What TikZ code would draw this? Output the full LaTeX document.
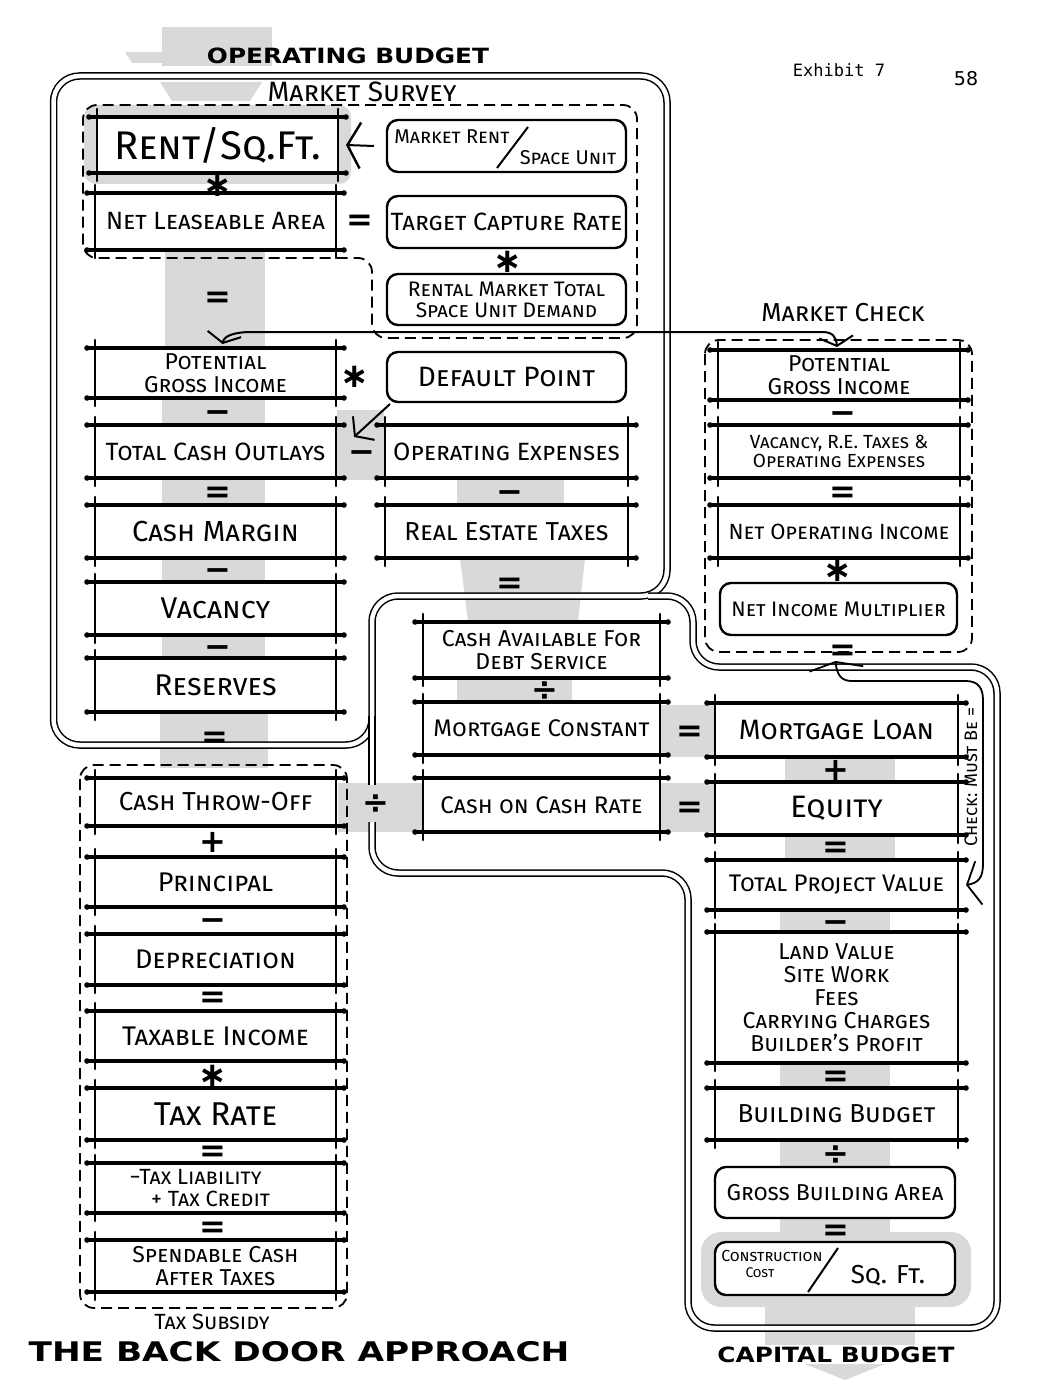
\documentclass[tikz,border=0pt]{standalone}
\usepackage{fontspec}
\usepackage{graphicx}
\setmainfont{Fira Sans}
\newfontfamily\headfont{DejaVu Sans}[FakeStretch=1.18]
\newfontfamily\headwide{DejaVu Sans}[FakeStretch=1.27]
\newfontfamily\opfont{DejaVu Sans}
\newfontfamily\typefont{DejaVu Sans Mono}
\usetikzlibrary{arrows.meta}

\tikzset{
 bb/.style={fill=white, inner sep=0pt, outer sep=0pt, align=center},
 rb/.style={draw, fill=white, rounded corners=11pt, line width=2.4pt, inner sep=0pt, outer sep=0pt, align=center},
 hl/.style={line width=3.4pt, line cap=round},
 vl/.style={line width=2.6pt, line cap=round},
 frame/.style={draw, double=white, double distance=4.5pt, line width=1.5pt, rounded corners=26pt},
 dbox/.style={draw, dash pattern=on 11pt off 6pt, line width=1.8pt, rounded corners=14pt},
 stip/.style={fill=black!15},
 op/.style={font={\opfont\bfseries\fontsize{32}{32}\selectfont}, inner sep=0pt, anchor=base, yshift=-10.3pt},
 opast/.style={font={\opfont\bfseries\fontsize{34}{34}\selectfont}, inner sep=0pt, anchor=base, yshift=-11pt},
 arrw/.style={line width=2pt},
}
\newcommand\bbox[7]{%
 \node[bb, minimum width=#4pt, minimum height=#5pt, font={\fontsize{#6}{#6}\selectfont\scshape}] (#1) at (#2,#3) {#7};
 \draw[hl] ([xshift=-8pt]#1.north west) -- ([xshift=8pt]#1.north east);
 \draw[hl] ([xshift=-8pt]#1.south west) -- ([xshift=8pt]#1.south east);
 \draw[vl] ([yshift=8pt]#1.north west) -- ([yshift=-8pt]#1.south west);
 \draw[vl] ([yshift=8pt]#1.north east) -- ([yshift=-8pt]#1.south east);
 \fill ([xshift=-8pt]#1.north west) circle (2.8pt) ([xshift=8pt]#1.north east) circle (2.8pt)
       ([xshift=-8pt]#1.south west) circle (2.8pt) ([xshift=8pt]#1.south east) circle (2.8pt);
}
\newcommand\rbox[7]{%
 \node[rb, minimum width=#4pt, minimum height=#5pt, font={\fontsize{#6}{#6}\selectfont\scshape}] (#1) at (#2,#3) {#7};
}
\newcommand\sct[1]{\fontsize{#1}{#1}\selectfont\scshape}

\begin{document}
\begin{tikzpicture}[x=1pt,y=-1pt]
\useasboundingbox (0,0) rectangle (1064,1380);

% ---------- stipple ----------
\fill[stip] (162,27) rectangle (272,66);
\fill[stip] (125,52) -- (162,52) -- (162,63) -- (132,63) -- cycle;
\fill[stip] (160,82) -- (262,82) -- (250,101) -- (172,101) -- cycle;
\fill[stip, rounded corners=12pt] (84,105) rectangle (351,184);
\fill[stip] (165,250) rectangle (265,350);
\fill[stip] (162,398) rectangle (265,425);
\fill[stip] (162,478) rectangle (265,505);
\fill[stip] (162,558) rectangle (265,582);
\fill[stip] (162,635) rectangle (265,658);
\fill[stip] (160,712) rectangle (268,768);
\fill[stip] (337,410) rectangle (384,480);
\fill[stip] (457,478) rectangle (564,505);
\fill[stip] (460,558) -- (585,558) -- (578,622) -- (468,622) -- cycle;
\fill[stip] (457,678) rectangle (572,702);
\fill[stip] (660,705) rectangle (716,757);
\fill[stip] (338,783) rectangle (716,832);
\fill[stip] (785,757) rectangle (895,782);
\fill[stip] (785,835) rectangle (895,860);
\fill[stip] (780,910) rectangle (890,932);
\fill[stip] (780,1063) rectangle (890,1088);
\fill[stip] (780,1140) rectangle (890,1167);
\fill[stip] (780,1218) rectangle (890,1242);
\fill[stip, rounded corners=20pt] (701,1232) rectangle (971,1307);
\fill[stip] (765,1300) rectangle (915,1345);
\fill[stip] (805,1364) -- (885,1364) -- (845,1380) -- cycle;

% ---------- frames ----------
\draw[frame] (53.5,400) -- (53.5,76) -- (667,76) -- (667,596) -- (372,596) -- (372,745) -- (53.5,745) -- cycle;
\draw[frame] (372,716) -- (372,785);
\draw[frame] (372,822) -- (372,873) -- (688,873) -- (688,1328) -- (997,1328) -- (997,667) -- (693,667) -- (693,596) -- (648,596);

% ---------- dashed groups ----------
\draw[dbox] (300,105) -- (637,105) -- (637,338) -- (372,338) -- (372,258) -- (83,258) -- (83,105) -- cycle;
\draw[dbox] (705,340) rectangle (972,652);
\draw[dbox] (80,765) rectangle (347,1308);

% ---------- operating budget ----------
\bbox{rent}{217.5}{145}{241}{56}{40}{Rent/Sq.Ft.}
\bbox{nla}{215.5}{221.5}{241}{57}{25}{Net Leaseable Area}
\rbox{mrent}{506.5}{146}{239}{52}{20}{}
\node[font=\sct{20}] (mrA) at (452,137) {Market Rent};
\node[font=\sct{20}] (mrB) at (568,158) {Space Unit};
\draw[line width=2pt] (497,168) -- (528,127);
\rbox{tcr}{506.5}{222}{239}{52}{25}{Target Capture Rate}
\rbox{rmt}{506.5}{299.5}{239}{51}{21}{Rental Market Total\\Space Unit Demand}
\bbox{pgi}{215.5}{373}{241}{50}{23}{Potential\\Gross Income}
\rbox{dp}{506.5}{377}{239}{50}{28}{Default Point}
\bbox{tco}{215.5}{451.5}{241}{53}{25}{Total Cash Outlays}
\bbox{opex}{506.5}{451.5}{243}{53}{25}{Operating Expenses}
\bbox{cm}{215.5}{531.5}{241}{53}{29}{Cash Margin}
\bbox{ret}{506.5}{531.5}{243}{53}{26}{Real Estate Taxes}
\bbox{vac}{215.5}{608.5}{241}{53}{30}{Vacancy}
\bbox{res}{215.5}{685}{241}{54}{30}{Reserves}

% ---------- financing ----------
\bbox{cadb}{541.5}{650}{237}{56}{23}{Cash Available For\\Debt Service}
\bbox{mc}{541.5}{728.5}{237}{53}{24}{Mortgage Constant}
\bbox{cocr}{541.5}{805}{237}{54}{24}{Cash on Cash Rate}

% ---------- market check ----------
\bbox{pgic}{839}{375}{242}{50}{23}{Potential\\Gross Income}
\bbox{vre}{839}{451.5}{242}{53}{19}{Vacancy, R.E. Taxes \&\\Operating Expenses}
\bbox{noi}{839}{531.5}{242}{53}{22}{Net Operating Income}
\rbox{nim}{838.5}{609}{237}{52}{21}{Net Income Multiplier}

% ---------- capital budget ----------
\bbox{ml}{836.5}{730}{243}{54}{28}{Mortgage Loan}
\bbox{eq}{836.5}{808.5}{243}{53}{31}{Equity}
\bbox{tpv}{836.5}{885}{243}{50}{24}{Total Project Value}
\bbox{land}{836.5}{997.5}{243}{131}{23}{Land Value\\Site Work\\Fees\\Carrying Charges\\Builder's Profit}
\bbox{bud}{836.5}{1114}{243}{52}{26}{Building Budget}
\rbox{gba}{835}{1192.5}{240}{51}{23}{Gross Building Area}
\rbox{ccs}{835}{1268.5}{240}{53}{20}{}
\node[font=\sct{16}] (ccA) at (772,1256) {Construction};
\node[font=\sct{14}] (ccB) at (760,1273) {Cost};
\draw[line width=2pt] (808,1292) -- (838,1248);
\node[font=\sct{26}] (ccC) at (888,1276) {Sq. Ft.};

% ---------- tax subsidy ----------
\bbox{cto}{215.5}{802}{241}{48}{26}{Cash Throw-Off}
\bbox{pri}{215.5}{882}{241}{50}{27}{Principal}
\bbox{dep}{215.5}{959.5}{241}{51}{27}{Depreciation}
\bbox{tax}{215.5}{1036}{241}{50}{27}{Taxable Income}
\bbox{trate}{215.5}{1114}{241}{52}{33}{Tax Rate}
\bbox{tliab}{215.5}{1188}{241}{50}{22}{\hspace*{-40pt}−Tax Liability\\+ Tax Credit\hspace*{10pt}}
\bbox{scat}{215.5}{1266}{241}{52}{23}{Spendable Cash\\After Taxes}

% ---------- operators ----------
\node[opast] (a1) at (218,186) {∗};
\node[op] (e1) at (218,297) {=};
\node[op] (m1) at (218,412) {−};
\node[op] (e2) at (218,492) {=};
\node[op] (m2) at (218,570) {−};
\node[op] (m3) at (218,647) {−};
\node[op] (e3) at (215,737) {=};
\node[op] (e4) at (360,220) {=};
\node[opast] (a2) at (508,261) {∗};
\node[opast] (a3) at (355,376) {∗};
\node[op] (m4) at (362,452) {−};
\node[op] (m5) at (510,492) {−};
\node[op] (e5) at (510,583) {=};
\node[op] (d1) at (545,690) {÷};
\node[op] (e6) at (690,731) {=};
\node[op] (e7) at (690,807) {=};
\node[op] (d2) at (376,803) {÷};
\node[op] (m6) at (843,413) {−};
\node[op] (e8) at (843,492) {=};
\node[opast] (a4) at (838,570) {∗};
\node[op] (e9) at (843,650) {=};
\node[op] (p1) at (836,770) {+};
\node[op] (e10) at (836,847) {=};
\node[op] (m7) at (836,922) {−};
\node[op] (e11) at (836,1076) {=};
\node[op] (d3) at (836,1154) {÷};
\node[op] (e12) at (836,1230) {=};
\node[op] (p2) at (213,842) {+};
\node[op] (m8) at (213,920) {−};
\node[op] (e13) at (213,997) {=};
\node[opast] (a5) at (213,1075) {∗};
\node[op] (e14) at (213,1151) {=};
\node[op] (e15) at (213,1227) {=};

% ---------- connectors ----------
\draw[arrw, -{Straight Barb[length=13pt,width=46pt,line width=2.4pt]}] ([xshift=-13pt]mrent.west) -- ([xshift=8pt]rent.east);
\draw[arrw, -{Straight Barb[length=12pt,width=32pt,line width=2pt]}] ([shift={(3,2)}]dp.south west) -- ([shift={(18,12)}]tco.north east);
\coordinate (ml1) at (252,332);
\coordinate (ml2) at (822,332);
\draw[arrw, {Straight Barb[length=9pt,width=34pt,line width=2pt]}-{Straight Barb[length=9pt,width=34pt,line width=2pt]}]
  ([shift={(7,-4)}]pgi.north) .. controls (224,336) and (234,332) .. (ml1) -- (ml2)
  .. controls (832,332) and (836,336) .. ([shift={(-2,-3)}]pgic.north);
\coordinate (ck1) at (983,700);
\draw[line width=1.8pt, {Straight Barb[length=12pt,width=44pt,line width=1.8pt]}-{Straight Barb[length=7pt,width=54pt,line width=1.8pt]}]
  ([xshift=8pt]tpv.east) .. controls (978,883) and (983,878) .. (983,864) -- (ck1)
  .. controls (983,688) and (978,681) .. (966,681) -- (852,681)
  .. controls (842,681) and (837,676) .. ([shift={(-3,26)}]nim.south);

% ---------- labels ----------
\node[font={\headfont\bfseries\fontsize{21}{21}\selectfont}] (hop) at (348,56) {OPERATING BUDGET};
\node[font={\headwide\bfseries\fontsize{27}{27}\selectfont}] (hbd) at (299,1352) {THE BACK DOOR APPROACH};
\node[font={\headfont\bfseries\fontsize{21}{21}\selectfont}] (hcb) at (836,1355) {CAPITAL BUDGET};
\node[font={\typefont\fontsize{17}{17}\selectfont}] (ex) at (839,70) {Exhibit 7};
\node[font={\opfont\fontsize{19}{19}\selectfont}] (pg) at (966,79) {58};
\node[font=\sct{28}] (lms) at (362,92) {Market Survey};
\node[font=\sct{26}] (lmc) at (843,313) {Market Check};
\node[font=\sct{22}] (lts) at (212,1322) {Tax Subsidy};
\node[font=\sct{18}, rotate=90] (lchk) at (971,777) {Check: Must Be =};
\end{tikzpicture}
\end{document}
